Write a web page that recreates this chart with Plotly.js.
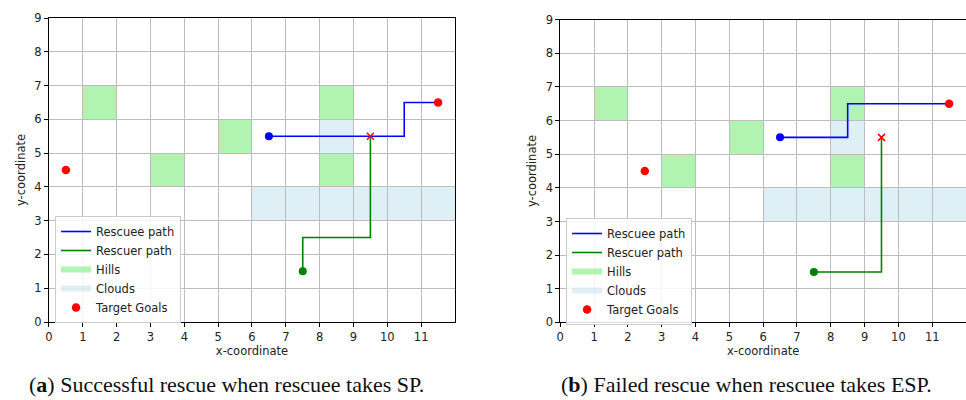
<!DOCTYPE html>
<html>
<head>
<meta charset="utf-8">
<script src="https://cdn.plot.ly/plotly-3.0.1.min.js"></script>
<style>
  html, body { margin: 0; padding: 0; background: #fff; }
  #chart { width: 966px; height: 400px; }
</style>
</head>
<body>
<div id="chart"></div>
<script>
// Grid world: 12 x 9 cells
const xTicks = [0, 1, 2, 3, 4, 5, 6, 7, 8, 9, 10, 11];
const yTicks = [0, 1, 2, 3, 4, 5, 6, 7, 8, 9];

// Terrain cells (lower-left corners), shared by both scenarios
const hillCellX = [1, 3, 5, 8, 8];
const hillCellY = [6, 4, 5, 6, 4];
const cloudCellX = [8, 6, 7, 8, 9, 10, 11];
const cloudCellY = [5, 3, 3, 3, 3, 3, 3];

// Scenario (a): rescuee takes SP
const rescueeAX = [6.5, 10.5, 10.5, 11.5];
const rescueeAY = [5.5, 5.5, 6.5, 6.5];
const rescuerAX = [7.5, 7.5, 9.5, 9.5];
const rescuerAY = [1.5, 2.5, 2.5, 5.5];
const goalsAX = [0.5, 11.5];
const goalsAY = [4.5, 6.5];
const meetAX = [9.5];
const meetAY = [5.5];

// Scenario (b): rescuee takes ESP
const rescueeBX = [6.5, 8.5, 8.5, 11.5];
const rescueeBY = [5.5, 5.5, 6.5, 6.5];
const rescuerBX = [7.5, 9.5, 9.5];
const rescuerBY = [1.5, 1.5, 5.5];
const goalsBX = [2.5, 11.5];
const goalsBY = [4.5, 6.5];
const meetBX = [9.5];
const meetBY = [5.5];

const captions = [
  '(<b>a</b>) Successful rescue when rescuee takes SP.',
  '(<b>b</b>) Failed rescue when rescuee takes ESP.'
];

const HILL = 'rgba(144,238,144,0.7)';
const CLOUD = 'rgba(173,216,230,0.4)';
const FONT = 'DejaVu Sans, sans-serif';

function cellShapes(xs, ys, color, xref, yref) {
  return xs.map((x, i) => ({
    type: 'rect', xref: xref, yref: yref, layer: 'below',
    x0: x, x1: x + 1, y0: ys[i], y1: ys[i] + 1,
    fillcolor: color, line: { width: 0 }
  }));
}

function panel(sfx, legendId, d) {
  const xa = 'x' + sfx, ya = 'y' + sfx;
  const common = { xaxis: xa, yaxis: ya, legend: legendId };
  return [
    Object.assign({ x: d.rx, y: d.ry, mode: 'lines', name: 'Rescuee path', legendrank: 1,
      line: { color: '#0000ff', width: 1.6 } }, common),
    Object.assign({ x: d.sx, y: d.sy, mode: 'lines', name: 'Rescuer path', legendrank: 2,
      line: { color: '#008000', width: 1.6 } }, common),
    Object.assign({ x: [null], y: [null], mode: 'none', fill: 'toself', fillcolor: HILL,
      name: 'Hills', legendrank: 3 }, common),
    Object.assign({ x: [null], y: [null], mode: 'none', fill: 'toself', fillcolor: CLOUD,
      name: 'Clouds', legendrank: 4 }, common),
    Object.assign({ x: [d.rx[0]], y: [d.ry[0]], mode: 'markers', showlegend: false,
      marker: { color: '#0000ff', size: 8 } }, common),
    Object.assign({ x: [d.sx[0]], y: [d.sy[0]], mode: 'markers', showlegend: false,
      marker: { color: '#008000', size: 8 } }, common),
    Object.assign({ x: d.gx, y: d.gy, mode: 'markers', name: 'Target Goals', legendrank: 5,
      marker: { color: '#ff0000', size: 8.5 } }, common),
    Object.assign({ x: d.mx, y: d.my, mode: 'markers', showlegend: false,
      marker: { color: '#ff0000', size: 7, symbol: 'x-thin-open', line: { color: '#ff0000', width: 1.5 } } }, common)
  ];
}

const data = [].concat(
  panel('', 'legend', { rx: rescueeAX, ry: rescueeAY, sx: rescuerAX, sy: rescuerAY,
    gx: goalsAX, gy: goalsAY, mx: meetAX, my: meetAY }),
  panel('2', 'legend2', { rx: rescueeBX, ry: rescueeBY, sx: rescuerBX, sy: rescuerBY,
    gx: goalsBX, gy: goalsBY, mx: meetBX, my: meetBY })
);

function xAxis(domain, anchor, mirror) {
  return {
    domain: domain, anchor: anchor, range: [0, 12],
    tickvals: xTicks, ticktext: xTicks.map(String),
    showgrid: true, gridcolor: '#bdbdbd', gridwidth: 1, zeroline: false,
    showline: true, linecolor: '#000', linewidth: 1, mirror: mirror,
    ticks: 'outside', ticklen: 4, tickcolor: '#000', tickwidth: 1,
    tickfont: { family: FONT, size: 11.5, color: '#222' },
    title: { text: 'x-coordinate', font: { family: FONT, size: 11.5, color: '#222' }, standoff: 2 },
    fixedrange: true
  };
}
function yAxis(domain, anchor, mirror) {
  return {
    domain: domain, anchor: anchor, range: [0, 9],
    tickvals: yTicks, ticktext: yTicks.map(String),
    showgrid: true, gridcolor: '#bdbdbd', gridwidth: 1, zeroline: false,
    showline: true, linecolor: '#000', linewidth: 1, mirror: mirror,
    ticks: 'outside', ticklen: 4, tickcolor: '#000', tickwidth: 1,
    tickfont: { family: FONT, size: 11.5, color: '#222' },
    title: { text: 'y-coordinate', font: { family: FONT, size: 11.5, color: '#222' }, standoff: 6 },
    fixedrange: true
  };
}

const legendStyle = (x, y) => ({
  x: x, y: y, xanchor: 'left', yanchor: 'top',
  bgcolor: 'rgba(255,255,255,0.85)', bordercolor: '#cccccc', borderwidth: 1,
  font: { family: FONT, size: 11.5, color: '#222' },
  tracegroupgap: 0, itemwidth: 30
});

const layout = {
  width: 966, height: 400,
  margin: { l: 0, r: 0, t: 0, b: 0 },
  paper_bgcolor: '#fff', plot_bgcolor: '#fff',
  xaxis: xAxis([0.0507, 0.471], 'y', true),
  yaxis: yAxis([0.195, 0.955], 'x', true),
  xaxis2: xAxis([0.58, 1.0], 'y2', true),
  yaxis2: yAxis([0.194, 0.951], 'x2', false),
  legend: legendStyle(0.057, 0.46),
  legend2: legendStyle(0.586, 0.455),
  shapes: [].concat(
    cellShapes(hillCellX, hillCellY, HILL, 'x', 'y'),
    cellShapes(cloudCellX, cloudCellY, CLOUD, 'x', 'y'),
    cellShapes(hillCellX, hillCellY, HILL, 'x2', 'y2'),
    cellShapes(cloudCellX, cloudCellY, CLOUD, 'x2', 'y2')
  ),
  annotations: [
    { text: captions[0], x: 226 / 966, y: 0.04, xref: 'paper', yref: 'paper',
      xanchor: 'center', yanchor: 'middle', showarrow: false,
      font: { family: 'Liberation Serif, serif', size: 22, color: '#111' } },
    { text: captions[1], x: 746 / 966, y: 0.04, xref: 'paper', yref: 'paper',
      xanchor: 'center', yanchor: 'middle', showarrow: false,
      font: { family: 'Liberation Serif, serif', size: 22, color: '#111' } }
  ],
  showlegend: true
};

Plotly.newPlot('chart', data, layout, { displayModeBar: false, staticPlot: true });
</script>
</body>
</html>
